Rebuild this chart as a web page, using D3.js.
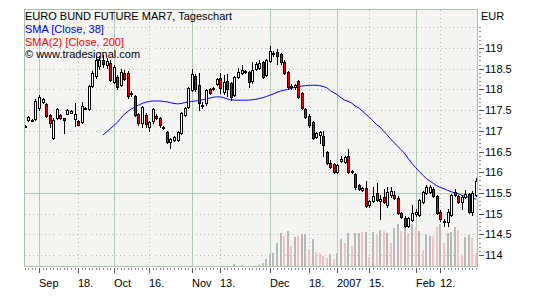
<!DOCTYPE html>
<html>
<head>
<meta charset="utf-8">
<script src="https://cdn.jsdelivr.net/npm/d3@7"></script>
<style>
  body { margin: 0; background: #ffffff; }
  svg text { font-family: "Liberation Sans", Arial, sans-serif; font-size: 11px; }
</style>
</head>
<body>
<div id="chartBody"></div>
<script>
// EURO BUND FUTURE MAR7, daily bars 28 Aug 2006 .. 26 Feb 2007 (bar index 0..127)
var open = [117.12,117.26,117.26,117.28,117.55,117.70,117.64,117.38,116.83,117.31,
  117.38,117.30,117.41,117.44,117.29,117.24,117.21,117.55,117.53,118.08,
  118.32,118.56,118.72,118.58,118.64,118.18,118.30,118.10,118.40,118.40,
  117.92,117.84,117.41,117.19,117.38,117.09,117.24,117.36,117.31,117.10,
  116.98,116.73,116.78,116.78,116.95,117.38,117.57,117.98,118.32,118.10,
  117.62,117.67,118.00,118.03,118.13,118.27,117.94,118.20,118.15,117.86,
  118.30,118.40,118.44,118.42,118.20,118.50,118.52,118.65,118.35,118.69,
  118.88,118.90,118.85,118.66,118.42,118.08,118.05,118.20,117.91,117.53,
  117.36,117.21,116.85,116.90,116.87,116.49,116.22,116.20,116.00,116.28,
  116.25,116.40,116.03,115.96,115.69,115.57,115.62,115.20,115.30,115.50,
  115.30,115.40,115.20,115.45,115.45,115.38,115.01,114.89,114.70,114.85,
  115.00,114.97,115.28,115.50,115.52,115.60,115.43,115.04,114.82,114.80,
  114.97,115.52,115.43,115.28,115.40,115.47,115.04,115.45];
var high = [117.13,117.35,117.28,117.77,117.86,117.79,117.66,117.40,117.30,117.55,
  117.40,117.32,117.52,117.50,117.68,117.26,117.70,117.58,118.10,118.45,
  118.80,118.80,118.82,118.75,118.70,118.60,118.35,118.50,118.48,118.45,
  117.96,117.86,117.43,117.60,117.42,117.24,117.56,117.40,117.34,117.12,
  117.00,116.83,116.88,117.00,117.45,117.58,118.05,118.50,118.36,118.40,
  117.70,118.00,118.03,118.06,118.28,118.40,118.35,118.38,118.18,118.33,
  118.52,118.58,118.47,118.45,118.65,118.65,118.72,118.68,118.73,119.05,
  118.92,118.98,118.88,118.70,118.45,118.12,118.14,118.22,117.94,117.55,
  117.40,117.24,116.98,117.00,117.00,116.52,116.30,116.22,116.20,116.40,
  116.40,116.56,116.06,115.99,115.72,115.65,115.78,115.33,115.65,115.75,
  115.45,115.60,115.65,115.65,115.55,115.42,115.05,114.95,114.92,115.20,
  115.10,115.36,115.55,115.68,115.70,115.65,115.46,115.08,114.88,115.10,
  115.48,115.60,115.46,115.43,115.58,115.50,115.55,115.85];
var low = [117.11,117.24,117.25,117.25,117.50,117.68,117.34,117.10,116.80,117.28,
  117.28,116.95,117.40,117.42,117.12,117.13,117.19,117.53,117.50,118.05,
  118.28,118.50,118.55,118.52,118.20,118.15,118.02,118.08,118.22,117.80,
  117.85,117.35,117.15,117.10,117.10,117.00,117.20,117.28,117.10,117.05,
  116.70,116.58,116.75,116.75,116.92,117.35,117.55,117.95,117.96,117.50,
  117.55,117.63,117.88,117.99,118.10,117.92,117.90,117.85,117.75,117.83,
  118.28,118.38,118.40,118.05,118.15,118.47,118.50,118.28,118.32,118.66,
  118.80,118.62,118.62,118.38,118.02,118.02,118.02,117.80,117.52,117.30,
  117.10,116.80,116.82,116.70,116.40,116.20,116.10,115.98,115.98,116.25,
  116.22,115.98,115.98,115.60,115.58,115.55,115.15,115.17,115.28,115.30,
  114.87,115.25,115.15,115.40,115.35,114.98,114.90,114.68,114.67,114.82,
  114.95,114.94,115.25,115.47,115.50,115.40,114.98,114.82,114.70,114.70,
  114.94,115.42,115.25,115.10,115.38,115.01,114.97,115.42];
var close = [117.12,117.33,117.27,117.72,117.82,117.77,117.36,117.19,117.26,117.53,
  117.32,117.25,117.50,117.48,117.41,117.15,117.60,117.56,118.08,118.40,
  118.71,118.70,118.62,118.68,118.23,118.54,118.06,118.42,118.25,117.84,
  117.91,117.38,117.19,117.57,117.16,117.21,117.53,117.31,117.14,117.09,
  116.73,116.80,116.85,116.97,117.43,117.55,118.03,118.37,118.00,117.67,
  117.61,117.98,117.91,118.02,118.25,118.03,118.18,118.00,117.82,118.30,
  118.42,118.47,118.43,118.18,118.46,118.62,118.64,118.30,118.70,118.93,
  118.87,118.80,118.66,118.40,118.06,118.07,118.10,117.82,117.55,117.33,
  117.14,116.83,116.95,116.97,116.66,116.22,116.13,116.00,116.17,116.32,
  116.37,116.00,116.02,115.64,115.60,115.62,115.18,115.30,115.43,115.33,
  115.36,115.28,115.52,115.55,115.38,115.01,114.92,114.70,114.89,115.01,
  115.03,115.33,115.52,115.64,115.64,115.43,115.01,114.87,114.79,115.04,
  115.45,115.45,115.28,115.40,115.48,115.04,115.50,115.79];

// SMA [Close, 38] as drawn (starts at bar 22)
var sma38 = [null,null,null,null,null,null,null,null,null,null,
  null,null,null,null,null,null,null,null,null,null,
  null,null,116.90,116.97,117.05,117.12,117.20,117.30,117.40,117.47,
  117.53,117.57,117.62,117.66,117.69,117.71,117.72,117.72,117.72,117.71,
  117.70,117.68,117.66,117.65,117.66,117.68,117.70,117.71,117.72,117.73,
  117.75,117.77,117.79,117.81,117.82,117.82,117.80,117.77,117.75,117.74,
  117.74,117.74,117.74,117.74,117.75,117.76,117.78,117.80,117.83,117.86,
  117.89,117.93,117.96,117.98,118.00,118.03,118.05,118.07,118.08,118.09,
  118.10,118.10,118.10,118.09,118.07,118.04,117.97,117.92,117.87,117.80,
  117.74,117.71,117.67,117.60,117.55,117.48,117.40,117.33,117.24,117.15,
  117.09,116.99,116.90,116.80,116.71,116.62,116.54,116.44,116.32,116.21,
  116.11,116.02,115.93,115.85,115.79,115.73,115.67,115.63,115.60,115.56,
  115.53,115.50,115.48,115.44,115.42,115.39,115.37,115.35];

// volume, thousand contracts; volPink = 1 for the pink bars
var volume = [0,0,0,0,0,0,0,0,0,0, 0,0,0,0,0,0,0,0,0,0,
  0,0,0,0,0,0,0,0,0,0, 0,0,0,0,0,0,0,0,0,0,
  0,0,0,0,0,0,0,0,0,0, 0,0,0,0,0,0,0,0,0,60,
  0,45,0,0,0,0,45,105,210,360,
  390,690,990,900,1050,600,870,900,960,960,
  510,810,420,390,300,240,360,210,390,810,
  690,990,600,990,990,1020,1020,270,1020,960,
  1080,1050,990,690,1140,1260,1050,1170,990,1260,
  1170,1050,480,960,900,900,1170,1260,690,990,
  1020,1170,1080,300,870,930,840,390];
var volPink = [0,0,0,0,0,0,0,0,0,0, 0,0,0,0,0,0,0,0,0,0,
  0,0,0,0,0,0,0,0,0,0, 0,0,0,0,0,0,0,0,0,0,
  0,0,0,0,0,0,0,0,0,0, 0,0,0,0,0,0,0,0,0,0,
  0,0,0,0,0,0,0,0,0,0,
  0,0,0,1,0,1,0,1,0,0,
  1,0,1,1,1,1,0,1,0,0,
  1,0,1,0,0,1,0,1,0,1,
  0,1,0,1,0,0,1,0,1,0,
  1,0,1,0,0,1,1,0,1,0,
  0,0,1,1,0,0,1,1];

var tickIdx = [4, 15, 25, 35, 47, 55, 69, 80, 88, 97, 110, 117];
var tickLab = ["Sep", "18.", "Oct", "16.", "Nov", "13.", "Dec", "18.", "2007", "15.", "Feb", "12."];
var priceTicks = [114, 114.5, 115, 115.5, 116, 116.5, 117, 117.5, 118, 118.5, 119];
var legendLines = [
  {text: "EURO BUND FUTURE MAR7, Tageschart", color: "#000000"},
  {text: "SMA [Close, 38]", color: "#0000ff"},
  {text: "SMA(2) [Close, 200]", color: "#ff0000"},
  {text: "\u00a9 www.tradesignal.com", color: "#000000"}
];

var W = 536, H = 299;
var plot = {left: 24.5, top: 9.5, right: 477.5, bottom: 266.5};

var svg = d3.select("#chartBody")
    .append("svg")
    .attr("width", W)
    .attr("height", H);

var xScale = d3.scaleLinear().domain([0, 127]).range([24.8, 476]);
var yScale = d3.scaleLinear().domain([114, 119]).range([255, 48]);
var volScale = d3.scaleLinear().domain([0, 1500]).range([266, 216]);

function px(v) { return Math.round(v); }

// plot background
svg.append("rect")
    .attr("x", plot.left)
    .attr("y", plot.top)
    .attr("width", plot.right - plot.left)
    .attr("height", plot.bottom - plot.top)
    .attr("fill", "#f4f5f2");

var grid = svg.append("g").attr("shape-rendering", "crispEdges");

// horizontal grid, every 0.5 (115.5 is drawn solid)
d3.range(114, 119.51, 0.5).forEach(function(p) {
    var yy = px(yScale(p)) + 0.5;
    var solid = (p === 115.5);
    grid.append("line")
        .attr("x1", plot.left).attr("x2", plot.right)
        .attr("y1", yy).attr("y2", yy)
        .attr("stroke", solid ? "#b3c9b3" : "#b9bdb9")
        .attr("stroke-width", solid ? 1.5 : 1)
        .attr("stroke-dasharray", solid ? null : "1,3");
});

// vertical grid: month starts solid, mid-month dotted
tickIdx.forEach(function(idx, k) {
    var xx = px(xScale(idx)) + 0.5;
    var solid = tickLab[k].slice(-1) !== ".";
    grid.append("line")
        .attr("x1", xx).attr("x2", xx)
        .attr("y1", plot.top).attr("y2", plot.bottom)
        .attr("stroke", solid ? "#b3c9b3" : "#b9bdb9")
        .attr("stroke-width", solid ? 1.5 : 1)
        .attr("stroke-dasharray", solid ? null : "1,3");
});

// volume bars
var volG = svg.append("g").attr("shape-rendering", "crispEdges");
volume.forEach(function(v, i) {
    if (v <= 0) return;
    var top = volScale(v);
    volG.append("rect")
        .attr("x", px(xScale(i)) - 1)
        .attr("y", top)
        .attr("width", 2)
        .attr("height", volScale(0) - top)
        .attr("fill", volPink[i] ? "#efc4c4" : "#b9b9b9");
});

// SMA line
var smaLine = d3.line()
    .defined(function(d) { return d !== null; })
    .x(function(d, i) { return xScale(i); })
    .y(function(d) { return yScale(d); });

svg.append("path")
    .attr("d", smaLine(sma38))
    .attr("fill", "none")
    .attr("stroke", "#0000ff")
    .attr("stroke-width", 1);

// candles
var candles = svg.append("g").attr("shape-rendering", "crispEdges");
open.forEach(function(o, i) {
    var c = close[i];
    var cx = px(xScale(i));
    candles.append("line")
        .attr("x1", cx + 0.5).attr("x2", cx + 0.5)
        .attr("y1", px(yScale(high[i]))).attr("y2", px(yScale(low[i])) + 1)
        .attr("stroke", "#000");
    var top = px(yScale(Math.max(o, c)));
    var bot = px(yScale(Math.min(o, c)));
    candles.append("rect")
        .attr("x", cx - 0.5)
        .attr("y", top + 0.5)
        .attr("width", 2)
        .attr("height", Math.max(1, bot - top))
        .attr("fill", c < o ? "#ee0000" : "#ffffff")
        .attr("stroke", "#000")
        .attr("stroke-width", 1);
});

// plot frame
svg.append("rect")
    .attr("x", plot.left)
    .attr("y", plot.top)
    .attr("width", plot.right - plot.left)
    .attr("height", plot.bottom - plot.top)
    .attr("fill", "none")
    .attr("stroke", "#a9c3a9")
    .attr("shape-rendering", "crispEdges");

// legend texts
svg.append("g")
    .selectAll("text")
    .data(legendLines)
    .enter()
    .append("text")
    .attr("x", 25)
    .attr("y", function(d, i) { return 20 + i * 12.8; })
    .attr("fill", function(d) { return d.color; })
    .text(function(d) { return d.text; });

// right price axis
var yAxisG = svg.append("g").attr("shape-rendering", "crispEdges");
d3.range(114, 119.55, 0.1).forEach(function(p) {
    var yy = px(yScale(p)) + 0.5;
    yAxisG.append("line")
        .attr("x1", 479).attr("x2", 481)
        .attr("y1", yy).attr("y2", yy)
        .attr("stroke", "#8a8a8a");
});
priceTicks.forEach(function(p) {
    var yy = px(yScale(p)) + 0.5;
    yAxisG.append("line")
        .attr("x1", 479).attr("x2", 484)
        .attr("y1", yy).attr("y2", yy)
        .attr("stroke", "#555");
});
yAxisG.selectAll("text")
    .data(priceTicks)
    .enter()
    .append("text")
    .attr("x", 485)
    .attr("y", function(d) { return yScale(d) + 4; })
    .attr("fill", "#000")
    .text(function(d) { return d; });
svg.append("text")
    .attr("x", 481)
    .attr("y", 20)
    .text("EUR");

// bottom date axis
var xAxisG = svg.append("g").attr("shape-rendering", "crispEdges");
d3.range(0, 128).forEach(function(i) {
    var xx = px(xScale(i)) + 0.5;
    xAxisG.append("line")
        .attr("x1", xx).attr("x2", xx)
        .attr("y1", 268).attr("y2", 270)
        .attr("stroke", "#8a8a8a");
});
tickIdx.forEach(function(idx) {
    var xx = px(xScale(idx)) + 0.5;
    xAxisG.append("line")
        .attr("x1", xx).attr("x2", xx)
        .attr("y1", 268).attr("y2", 273)
        .attr("stroke", "#555");
});
xAxisG.selectAll("text")
    .data(tickIdx)
    .enter()
    .append("text")
    .attr("x", function(d) { return px(xScale(d)); })
    .attr("y", 287)
    .attr("fill", "#000")
    .text(function(d, k) { return tickLab[k]; });
</script>
</body>
</html>
